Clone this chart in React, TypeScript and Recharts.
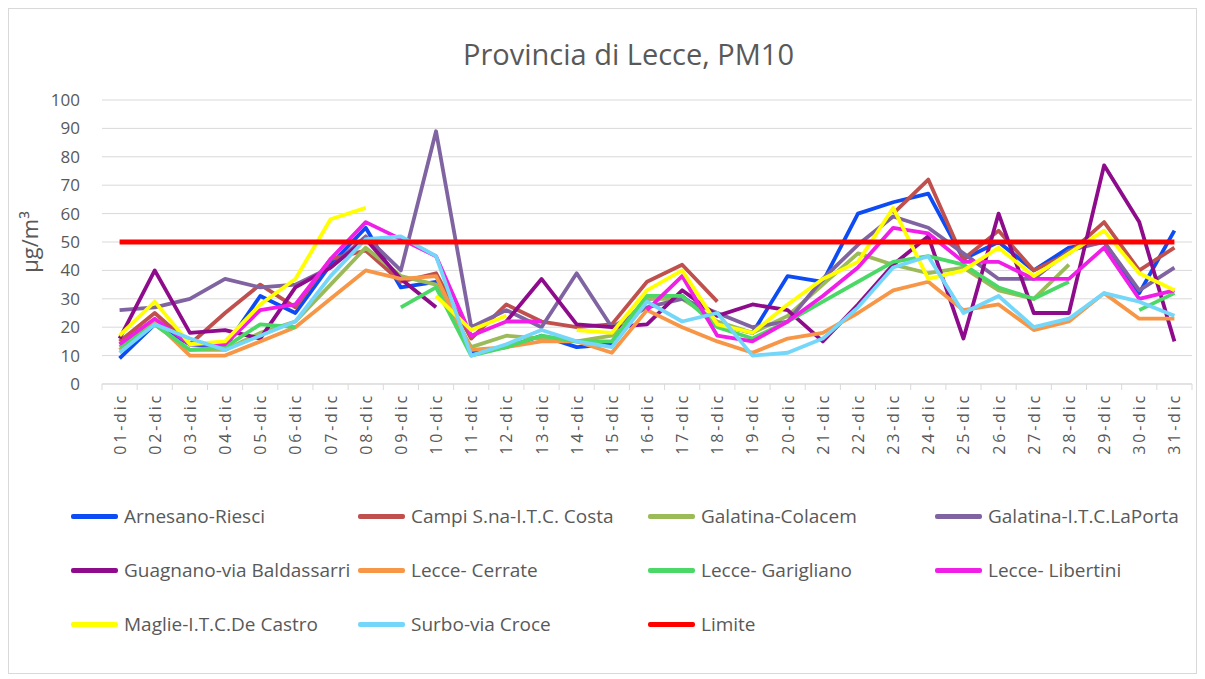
import { CartesianGrid, Line, LineChart, XAxis, YAxis } from "recharts";

const days = [
  "01-dic", "02-dic", "03-dic", "04-dic", "05-dic", "06-dic", "07-dic", "08-dic",
  "09-dic", "10-dic", "11-dic", "12-dic", "13-dic", "14-dic", "15-dic", "16-dic",
  "17-dic", "18-dic", "19-dic", "20-dic", "21-dic", "22-dic", "23-dic", "24-dic",
  "25-dic", "26-dic", "27-dic", "28-dic", "29-dic", "30-dic", "31-dic",
];

const yTicks = [0, 10, 20, 30, 40, 50, 60, 70, 80, 90, 100];

// µg/m3 per station, null where the station has no reading
const arnesanoRiesci = [9, 21, 14, 13, 31, 25, 42, 55, 34, 36, 11, 13, 17, 13, 14, 30, 31, 21, 18, 38, 36, 60, 64, 67, 44, 50, 40, 48, 50, 32, 54];
const campiCosta = [15, 25, 14, 25, 35, 27, 44, 47, 36, 39, 16, 28, 22, 20, 21, 36, 42, 29, null, null, null, null, 60, 72, 44, 54, 40, 46, 57, 40, 48];
const galatinaColacem = [14, 21, 12, 12, 18, 22, 35, 48, 38, 35, 13, 17, 16, 15, 17, 30, 30, 22, 18, 24, 35, 46, 42, 39, 41, 33, 30, 42, null, null, null];
const galatinaLaPorta = [26, 27, 30, 37, 34, 35, 41, 52, 40, 89, 20, 26, 20, 39, 20, 27, 30, 25, 20, 22, 37, 49, 59, 55, 46, 37, 37, 47, 50, 33, 41];
const guagnano = [16, 40, 18, 19, 16, 34, 41, 51, 37, 27, null, 22, 37, 21, 20, 21, 33, 24, 28, 26, 15, 28, 42, 52, 16, 60, 25, 25, 77, 57, 15];
const lecceCerrate = [12, 22, 10, 10, 15, 20, 30, 40, 37, 38, 12, 13, 15, 15, 11, 26, 20, 15, 11, 16, 18, 25, 33, 36, 26, 28, 19, 22, 32, 23, 23];
const lecceGarigliano = [13, 21, 12, 13, 21, 20, null, null, 27, 34, 10, 13, 17, 15, 15, 31, 31, 20, 16, 22, 29, 36, 43, 45, 42, 34, 30, 36, null, 26, 32];
const lecceLibertini = [14, 23, 14, 14, 26, 28, 44, 57, 51, 45, 17, 22, 22, null, null, 26, 38, 17, 15, 22, 31, 41, 55, 53, 43, 43, 37, 37, 48, 30, 33];
const maglieDeCastro = [17, 29, 14, 15, 28, 37, 58, 62, null, 31, 19, 24, null, 19, 18, 33, 40, 21, 18, 28, 37, 43, 62, 37, 40, 48, 38, 46, 54, 39, 33];
const surboCroce = [11, 21, 16, 12, 17, 22, 38, 51, 52, 45, 10, 14, 19, 15, 13, 29, 22, 25, 10, 11, 16, 27, 41, 45, 25, 31, 20, 23, 32, 29, 24];
const limite = [50, 50, 50, 50, 50, 50, 50, 50, 50, 50, 50, 50, 50, 50, 50, 50, 50, 50, 50, 50, 50, 50, 50, 50, 50, 50, 50, 50, 50, 50, 50];

const series = [
  { key: "arnesano", name: "Arnesano-Riesci", color: "#0D4BF4", values: arnesanoRiesci, width: 3.8 },
  { key: "campi", name: "Campi S.na-I.T.C. Costa", color: "#C0504D", values: campiCosta, width: 3.8 },
  { key: "colacem", name: "Galatina-Colacem", color: "#9BBB59", values: galatinaColacem, width: 3.8 },
  { key: "laporta", name: "Galatina-I.T.C.LaPorta", color: "#8064A2", values: galatinaLaPorta, width: 3.8 },
  { key: "guagnano", name: "Guagnano-via Baldassarri", color: "#8E0C8C", values: guagnano, width: 3.8 },
  { key: "cerrate", name: "Lecce- Cerrate", color: "#F79646", values: lecceCerrate, width: 3.8 },
  { key: "garigliano", name: "Lecce- Garigliano", color: "#4CD866", values: lecceGarigliano, width: 3.8 },
  { key: "libertini", name: "Lecce- Libertini", color: "#F01EE6", values: lecceLibertini, width: 3.8 },
  { key: "maglie", name: "Maglie-I.T.C.De Castro", color: "#FFFF00", values: maglieDeCastro, width: 3.8 },
  { key: "surbo", name: "Surbo-via Croce", color: "#74D7F9", values: surboCroce, width: 3.8 },
  { key: "limite", name: "Limite", color: "#FF0000", values: limite, width: 5 },
];

const data = days.map((day, i) => {
  const row: Record<string, string | number | null> = { day };
  series.forEach((s) => {
    row[s.key] = s.values[i];
  });
  return row;
});

const FONT = "'Open Sans', sans-serif";
const TEXT = "#595959";
const GRID = "#D9D9D9";
const PLOT_W = 1090;
const BAND = PLOT_W / days.length;

function DayTick(props: any) {
  const { x, y, payload, index } = props;
  const axisY = y - 6;
  const lx = x + 6;
  const ly = axisY + 9;
  return (
    <g>
      <line x1={x - BAND / 2} x2={x - BAND / 2} y1={axisY} y2={axisY + 6} stroke={GRID} />
      {index === days.length - 1 && (
        <line x1={x + BAND / 2} x2={x + BAND / 2} y1={axisY} y2={axisY + 6} stroke={GRID} />
      )}
      <text
        x={lx}
        y={ly}
        transform={`rotate(-90, ${lx}, ${ly})`}
        textAnchor="end"
        fill={TEXT}
        fontSize={16}
        letterSpacing={2.8}
        fontFamily={FONT}
      >
        {payload.value}
      </text>
    </g>
  );
}

function YLabel(props: any) {
  const { viewBox } = props;
  const cx = 29;
  const cy = viewBox.y + viewBox.height / 2;
  return (
    <text
      x={cx}
      y={cy}
      transform={`rotate(-90, ${cx}, ${cy})`}
      textAnchor="middle"
      fill={TEXT}
      fontSize={22}
      fontFamily={FONT}
    >
      µg/m³
    </text>
  );
}

const legendCols = [62, 349, 639, 926];
const legendRows = [507, 561, 615];

export default function App() {
  return (
    <div
      style={{
        position: "relative",
        width: 1187,
        height: 664,
        border: `1px solid ${GRID}`,
        fontFamily: FONT,
        background: "#fff",
      }}
    >
      <div
        style={{
          position: "absolute",
          left: 454,
          top: 30,
          fontSize: 29,
          lineHeight: 1,
          color: TEXT,
          whiteSpace: "nowrap",
        }}
      >
        Provincia di Lecce, PM10
      </div>
      <LineChart
        width={1187}
        height={664}
        data={data}
        margin={{ top: 91, right: 4, bottom: 199, left: 0 }}
      >
        <CartesianGrid vertical={false} stroke={GRID} />
        <XAxis
          dataKey="day"
          interval={0}
          height={90}
          padding={{ left: BAND / 2, right: BAND / 2 }}
          axisLine={{ stroke: GRID }}
          tickLine={false}
          tickSize={6}
          tickMargin={0}
          tick={<DayTick />}
        />
        <YAxis
          domain={[0, 100]}
          ticks={yTicks}
          width={93}
          axisLine={false}
          tickLine={false}
          tickSize={6}
          tickMargin={16}
          tick={{ fill: TEXT, fontSize: 17, fontFamily: FONT }}
          label={<YLabel />}
        />
        {series.map((s) => (
          <Line
            key={s.key}
            type="linear"
            dataKey={s.key}
            name={s.name}
            stroke={s.color}
            strokeWidth={s.width}
            strokeLinejoin="round"
            dot={false}
            activeDot={false}
            connectNulls={false}
            isAnimationActive={false}
          />
        ))}
      </LineChart>
      {series.map((s, i) => (
        <div
          key={s.key}
          style={{
            position: "absolute",
            left: legendCols[i % 4],
            top: legendRows[Math.floor(i / 4)] - 12,
            height: 24,
            display: "flex",
            alignItems: "center",
            whiteSpace: "nowrap",
          }}
        >
          <span
            style={{
              display: "inline-block",
              width: 47,
              height: 5,
              borderRadius: 2,
              background: s.color,
              marginRight: 6,
            }}
          />
          <span style={{ fontSize: 19, color: TEXT }}>{s.name}</span>
        </div>
      ))}
    </div>
  );
}
